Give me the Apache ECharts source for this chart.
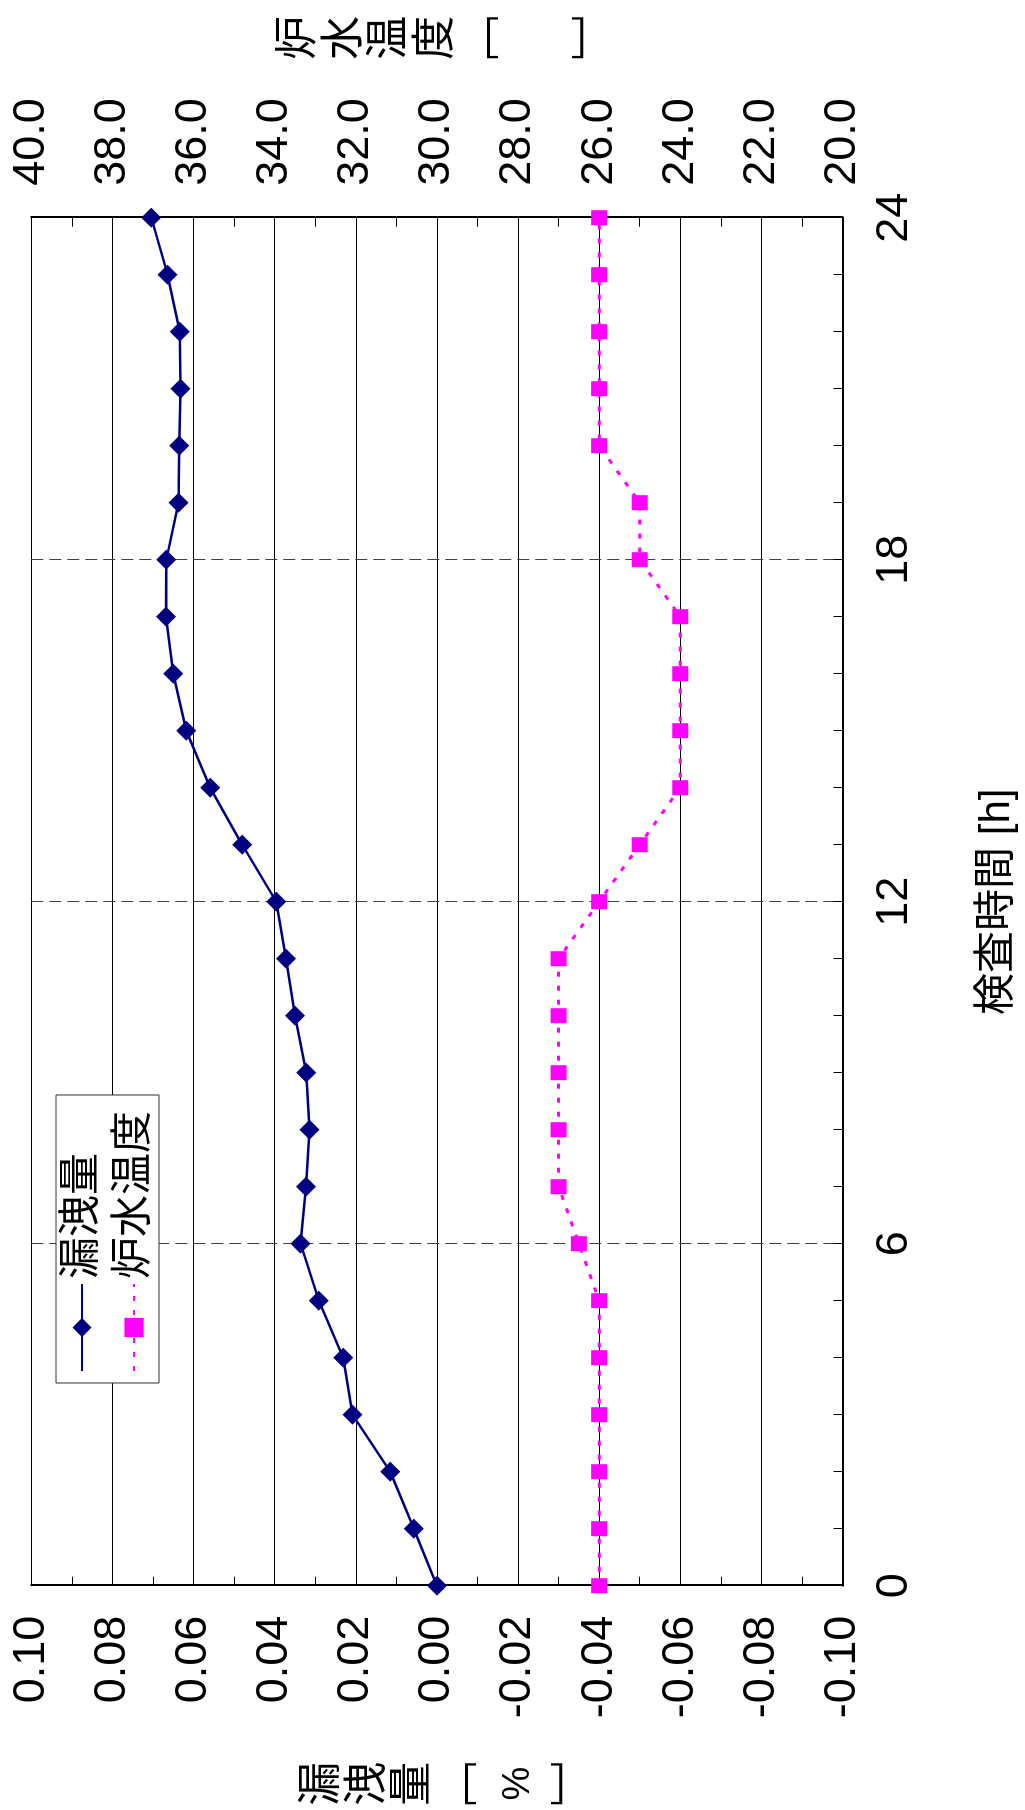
<!DOCTYPE html>
<html>
<head>
<meta charset="utf-8">
<script src="https://cdn.jsdelivr.net/npm/echarts@6/dist/echarts.min.js"></script>
<style>
  html, body { margin: 0; padding: 0; background: #fff; width: 1025px; height: 1810px; overflow: hidden; }
  #wrap { position: absolute; left: 0; top: 0; width: 1810px; height: 1025px;
          transform-origin: 0 0; transform: translateY(1810px) rotate(-90deg); background: #fff; }
</style>
</head>
<body>
<div id="wrap"></div>
<script>
// ---- data ----
const hours = [0, 1, 2, 3, 4, 5, 6, 7, 8, 9, 10, 11, 12, 13, 14, 15, 16, 17, 18, 19, 20, 21, 22, 23, 24];
const leakRate = [0.0000, 0.0057, 0.0115, 0.0208, 0.0231, 0.0291, 0.0336, 0.0323, 0.0314, 0.0322, 0.0350, 0.0372, 0.0396,
                  0.0480, 0.0559, 0.0618, 0.0650, 0.0668, 0.0667, 0.0637, 0.0635, 0.0632, 0.0634, 0.0664, 0.0704];
const waterTemp = [26, 26, 26, 26, 26, 26, 26.5, 27, 27, 27, 27, 27, 26, 25, 24, 24, 24, 24, 25, 25, 26, 26, 26, 26, 26];
const seriesNames = ['漏洩量', '炉水温度'];
const timeAxisName = '検査時間 [h]';
// vertical (stacked) axis titles: [text, rich style key]
const leakAxisName = [['漏', 'c'], ['洩', 'c'], ['量', 'c'], ['﹇', 'c'], ['%', 'p'], ['﹈', 'c']];
const tempAxisName = [['炉', 'c'], ['水', 'c'], ['温', 'c'], ['度', 'c'], ['﹇', 'c'], ['　', 'g'], ['﹈', 'c']];

const NUM_FONT = '"Liberation Sans Narrow", "Arial Narrow", "Liberation Sans", Arial, sans-serif';
const JP_FONT = '"Liberation Sans", "Noto Sans CJK JP", sans-serif';

const stack = parts => parts.map(([t, k]) => '{' + k + '|' + t + '}').join('\n');

const chart = echarts.init(document.getElementById('wrap'), null, { renderer: 'canvas' });

const option = {
  backgroundColor: '#ffffff',
  animation: false,
  grid: { left: 224.3, right: 217.7, top: 31.3, bottom: 182.5, show: false },
  legend: {
    orient: 'vertical',
    left: 427, top: 56,
    data: seriesNames,
    backgroundColor: '#ffffff',
    borderColor: '#333333', borderWidth: 1,
    padding: [3, 16, 2, 11],
    itemGap: 6,
    itemWidth: 87, itemHeight: 24,
    textStyle: { fontFamily: JP_FONT, fontSize: 42, lineHeight: 46, color: '#000' }
  },
  xAxis: {
    type: 'value', min: 0, max: 24, interval: 6,
    name: timeAxisName, nameLocation: 'middle', nameGap: 155,
    nameTextStyle: { fontFamily: JP_FONT, fontSize: 42, color: '#000', verticalAlign: 'middle', align: 'center' },
    axisLine: { show: true, onZero: false, lineStyle: { color: '#000', width: 2 } },
    axisTick: { show: true, inside: true, length: 9, lineStyle: { color: '#000', width: 1 } },
    minorTick: { show: true, splitNumber: 6, length: 9, lineStyle: { color: '#000', width: 1 } },
    axisLabel: { fontFamily: NUM_FONT, fontSize: 45, color: '#000', margin: 30 },
    splitLine: { show: true, lineStyle: { color: '#404040', width: 1, type: [12, 6] } }
  },
  yAxis: [
    {
      type: 'value', position: 'left', min: -0.1, max: 0.1, interval: 0.02,
      name: stack(leakAxisName), nameLocation: 'middle', nameGap: 198, nameRotate: 0,
      nameTextStyle: {
        fontFamily: JP_FONT, fontSize: 44, lineHeight: 46, color: '#000', align: 'center', verticalAlign: 'middle',
        padding: [26, 0, 0, 0],
        rich: {
          c: { fontFamily: JP_FONT, fontSize: 44, lineHeight: 45.5, color: '#000' },
          p: { fontFamily: '"Liberation Sans", sans-serif', fontSize: 38, lineHeight: 72, color: '#000' }
        }
      },
      axisLine: { show: true, onZero: false, lineStyle: { color: '#000', width: 2 } },
      axisTick: { show: true, inside: true, length: 9, lineStyle: { color: '#000', width: 1 } },
      minorTick: { show: true, splitNumber: 2, length: 9, lineStyle: { color: '#000', width: 1 } },
      axisLabel: { fontFamily: NUM_FONT, fontSize: 45, color: '#000', margin: 30, formatter: v => v.toFixed(2) },
      splitLine: { show: true, lineStyle: { color: '#000', width: 1 } }
    },
    {
      type: 'value', position: 'right', min: 20, max: 40, interval: 2,
      name: stack(tempAxisName), nameLocation: 'middle', nameGap: 180, nameRotate: 0,
      nameTextStyle: {
        fontFamily: JP_FONT, fontSize: 44, lineHeight: 46, color: '#000', align: 'center', verticalAlign: 'middle',
        padding: [24, 0, 0, 0],
        rich: {
          c: { fontFamily: JP_FONT, fontSize: 44, lineHeight: 45.5, color: '#000' },
          g: { fontFamily: JP_FONT, fontSize: 44, lineHeight: 70, color: '#000' }
        }
      },
      axisLine: { show: true, onZero: false, lineStyle: { color: '#000', width: 2 } },
      axisTick: { show: true, inside: true, length: 9, lineStyle: { color: '#000', width: 1 } },
      minorTick: { show: true, splitNumber: 2, length: 9, lineStyle: { color: '#000', width: 1 } },
      axisLabel: { fontFamily: NUM_FONT, fontSize: 45, color: '#000', margin: 32, formatter: v => v.toFixed(1) },
      splitLine: { show: false }
    }
  ],
  series: [
    {
      name: seriesNames[0], type: 'line', yAxisIndex: 0, z: 4,
      data: hours.map((h, i) => [h, leakRate[i]]),
      symbol: 'diamond', symbolSize: 20,
      lineStyle: { color: '#000080', width: 2.5 },
      itemStyle: { color: '#000080' }
    },
    {
      name: seriesNames[1], type: 'line', yAxisIndex: 1, z: 3,
      data: hours.map((h, i) => [h, waterTemp[i]]),
      symbol: 'rect', symbolSize: [15, 16],
      lineStyle: { color: '#FF00FF', width: 3, type: [5, 9] },
      itemStyle: { color: '#FF00FF' }
    }
  ]
};
chart.setOption(option);
</script>
</body>
</html>
